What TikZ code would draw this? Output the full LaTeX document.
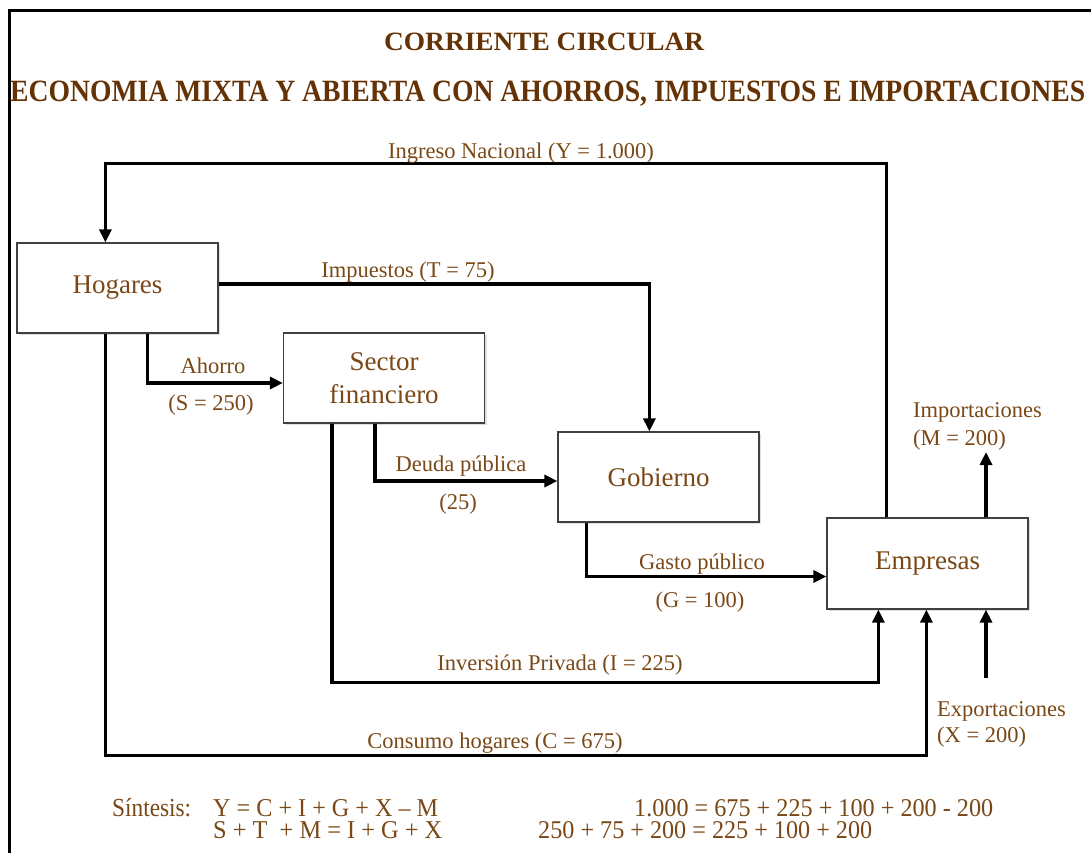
\documentclass[tikz,border=0pt]{standalone}
\usepackage{fontspec}
\setmainfont{Liberation Serif}
\usepackage{graphicx}
\usetikzlibrary{arrows.meta,shadows}
\definecolor{titlebrown}{RGB}{100,50,5}
\definecolor{txtbrown}{RGB}{122,72,22}
\begin{document}
\begin{tikzpicture}[x=1pt,y=-1pt,
  box/.style={draw=black!75,line width=1.2pt,fill=white,minimum width=201pt,minimum height=90pt,
    inner sep=0pt,text=txtbrown,font=\fontsize{27}{33}\selectfont,align=center,
    drop shadow={shadow xshift=2pt,shadow yshift=-2pt,opacity=0.25}},
  flow/.style={line width=3.2pt,-{Triangle[length=13pt,width=12pt]}},
  lbl/.style={text=txtbrown,font=\fontsize{22.5}{26}\selectfont,inner sep=0pt,anchor=base},
  lblw/.style={lbl,anchor=base west},
  ttl/.style={text=titlebrown,font=\bfseries\fontsize{28}{32}\selectfont,inner sep=0pt,anchor=base west},
  frm/.style={text=txtbrown,font=\fontsize{26}{30}\selectfont,inner sep=0pt,anchor=base west}]
\useasboundingbox (0,0) rectangle (1091,852);
\fill[white] (0,0) rectangle (1091,852);
% frame
\draw[line width=3pt] (9,870) -- (9,10) -- (1100,10);
% title
\node[ttl] (t1) at (384,50) {\resizebox{320pt}{17.5pt}{CORRIENTE CIRCULAR}};
\node[ttl] (t2) at (10,101) {\resizebox{1075pt}{20.5pt}{ECONOMIA MIXTA Y ABIERTA CON AHORROS, IMPUESTOS E IMPORTACIONES}};
% boxes
\node[box] (hog) at (117.5,288) {Hogares};
\node[box] (sec) at (384,378) {Sector\\financiero};
\node[box] (gob) at (658.5,477) {Gobierno};
\node[box,minimum height=91pt] (emp) at (927.5,563.5) {Empresas};
% connectors
\draw[flow] ([xshift=60pt]emp.north west) -- ++(0,-354) -| ([xshift=89pt]hog.north west);
\draw[flow] ([yshift=4pt]hog.east) -| ([xshift=92pt]gob.north west);
\draw[flow] ([xshift=131pt]hog.south west) |- ([yshift=-5pt]sec.west);
\draw[flow] ([xshift=89pt]hog.south west) -- ++(0,422) -| ([xshift=100pt]emp.south west);
\draw[flow] ([xshift=92pt]sec.south west) |- ([yshift=-4pt]gob.west);
\draw[flow] ([xshift=49pt]sec.south west) -- ++(0,259) -| ([xshift=52pt]emp.south west);
\draw[flow] ([xshift=29pt]gob.south west) |- ([yshift=-13pt]emp.west);
\coordinate (imp) at (986,452);
\draw[flow] (emp.north -| imp) -- (imp);
\coordinate (exs) at (986,678);
\draw[flow] (exs) -- (exs |- emp.south);
% labels
\node[lbl] (lY) at (521,158) {Ingreso Nacional (Y = 1.000)};
\node[lbl] (lT) at (408,277) {Impuestos (T = 75)};
\node[lbl] (lA) at (213,373) {Ahorro};
\node[lbl] (lS) at (211,410) {(S = 250)};
\node[lbl] (lD) at (461,471) {Deuda pública};
\node[lbl] (l25) at (458,509) {(25)};
\node[lbl] (lGa) at (702,569) {Gasto público};
\node[lbl] (lG) at (700,607) {(G = 100)};
\node[lbl] (lI) at (560,670) {Inversión Privada (I = 225)};
\node[lbl] (lC) at (495,748) {Consumo hogares (C = 675)};
\node[lblw] (lM1) at (913,417) {Importaciones};
\node[lblw] (lM2) at (913,445) {(M = 200)};
\node[lblw] (lX1) at (937,716) {Exportaciones};
\node[lblw] (lX2) at (937,742) {(X = 200)};
% formulas
\node[frm] (f0) at (112,816) {\resizebox{79pt}{\height}{Síntesis:}};
\node[frm] (f1) at (213,816) {\resizebox{225pt}{17pt}{Y = C + I + G + X – M}};
\node[frm] (f2) at (213,838) {\resizebox{229pt}{17pt}{S + T \ + M = I + G + X}};
\node[frm] (f3) at (634,816) {\resizebox{359pt}{17pt}{1.000 = 675 + 225 + 100 + 200 - 200}};
\node[frm] (f4) at (538,838) {\resizebox{334pt}{17pt}{250 + 75 + 200 = 225 + 100 + 200}};
\end{tikzpicture}
\end{document}
